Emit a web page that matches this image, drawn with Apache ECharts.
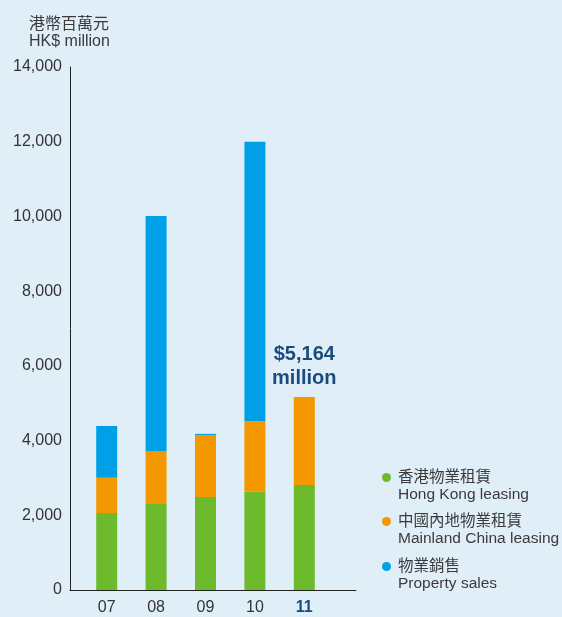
<!DOCTYPE html>
<html>
<head>
<meta charset="utf-8">
<script src="https://cdn.jsdelivr.net/npm/echarts@6/dist/echarts.min.js"></script>
<style>
  html, body { margin: 0; padding: 0; background: #e0eef8; }
  #chart { width: 562px; height: 617px; }
</style>
</head>
<body>
<div id="chart"></div>
<script>
const years = ['07', '08', '09', '10', '11'];
const hkLeasing = [2060, 2300, 2490, 2630, 2810];
const mainlandLeasing = [945, 1420, 1660, 1890, 2354];
const propertySales = [1385, 6290, 30, 7480, 0];
const seriesNames = [
  '香港物業租賃\nHong Kong leasing',
  '中國內地物業租賃\nMainland China leasing',
  '物業銷售\nProperty sales'
];
const yMin = 0, yMax = 14000, yStep = 2000;

const FONT = "'Liberation Sans', 'Noto Sans CJK TC', sans-serif";
const DARK_BLUE = '#1b4b7e';
const last = years.length - 1;
const total = hkLeasing[last] + mainlandLeasing[last] + propertySales[last];

const chart = echarts.init(document.getElementById('chart'));

// one legend per entry, so the dot lines up with the Chinese line
const legendTops = [452, 496, 541];
const legends = seriesNames.map((name, i) => ({
  orient: 'vertical',
  left: 382,
  top: legendTops[i],
  padding: 0,
  itemWidth: 13,
  itemHeight: 9,
  icon: 'circle',
  data: [name],
  formatter: n => ' \n' + n,
  selectedMode: false,
  textStyle: { fontSize: 15.5, color: '#3a3a3a', lineHeight: 17, fontFamily: FONT }
}));

chart.setOption({
  backgroundColor: '#e0eef8',
  textStyle: { fontFamily: FONT },
  title: {
    text: '港幣百萬元\nHK$ million',
    left: 29,
    top: 16,
    padding: 0,
    textStyle: { fontSize: 16, fontWeight: 'normal', color: '#3a3a3a', lineHeight: 17, fontFamily: FONT }
  },
  legend: legends,
  grid: [
    { left: 70, top: 67, width: 286, height: 523 },
    { left: 82, top: 67, width: 247, height: 523 }
  ],
  xAxis: [
    {
      gridIndex: 0, type: 'value', min: 0, max: 1,
      axisLine: { show: true, lineStyle: { color: '#222', width: 1 } },
      axisTick: { show: false }, axisLabel: { show: false }, splitLine: { show: false }
    },
    {
      gridIndex: 1, type: 'category',
      data: years.map((y, i) => i === last
        ? { value: y, textStyle: { color: DARK_BLUE, fontWeight: 'bold' } }
        : y),
      axisLine: { show: false }, axisTick: { show: false },
      axisLabel: { color: '#333', fontSize: 16, margin: 10, fontFamily: FONT }
    }
  ],
  yAxis: [
    {
      gridIndex: 0, type: 'value', min: yMin, max: yMax, interval: yStep,
      axisLine: { show: true, lineStyle: { color: '#222', width: 1 } },
      axisTick: { show: false }, splitLine: { show: false },
      axisLabel: { color: '#333', fontSize: 16, margin: 8, fontFamily: FONT }
    },
    {
      gridIndex: 1, type: 'value', min: yMin, max: yMax, interval: yStep,
      show: false, splitLine: { show: false }
    }
  ],
  series: [
    {
      name: seriesNames[0], type: 'bar', stack: 'total',
      xAxisIndex: 1, yAxisIndex: 1, barWidth: 21,
      itemStyle: { color: '#6eba2d' },
      data: hkLeasing
    },
    {
      name: seriesNames[1], type: 'bar', stack: 'total',
      xAxisIndex: 1, yAxisIndex: 1, barWidth: 21,
      itemStyle: { color: '#f39800' },
      data: mainlandLeasing.map((v, i) => i === last ? {
        value: v,
        label: {
          show: true, position: 'top', distance: 7,
          formatter: '$' + total.toLocaleString('en-US') + '\nmillion',
          fontSize: 20, fontWeight: 'bold', lineHeight: 24, color: DARK_BLUE, fontFamily: FONT
        }
      } : v)
    },
    {
      name: seriesNames[2], type: 'bar', stack: 'total',
      xAxisIndex: 1, yAxisIndex: 1, barWidth: 21,
      itemStyle: { color: '#00a0e9' },
      data: propertySales
    }
  ]
});
</script>
</body>
</html>
